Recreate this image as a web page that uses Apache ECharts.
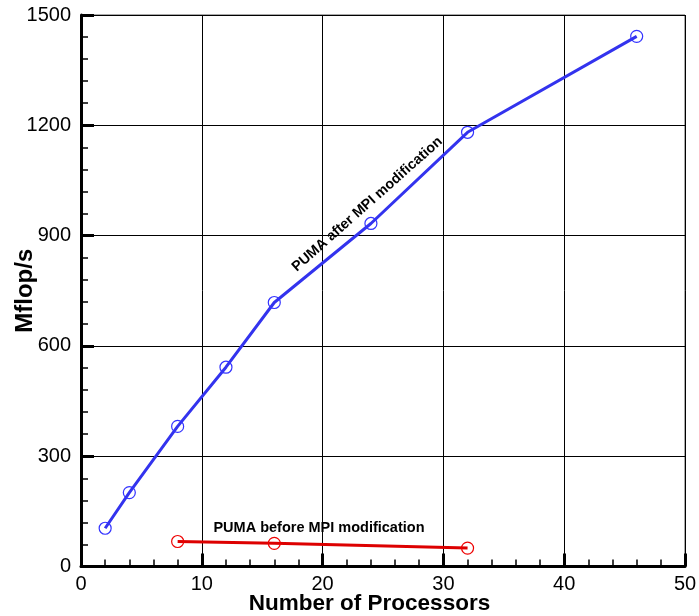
<!DOCTYPE html>
<html>
<head>
<meta charset="utf-8">
<script src="https://cdn.jsdelivr.net/npm/echarts@6/dist/echarts.min.js"></script>
<style>
html,body{margin:0;padding:0;background:#fff;}
#c{width:699px;height:616px;}
</style>
</head>
<body>
<div id="c"></div>
<script>
// Data
var afterX = [2, 4, 8, 12, 16, 24, 32, 46];
var afterY = [104, 201, 381, 542, 718, 933, 1181, 1442];
var beforeX = [8, 16, 32];
var beforeY = [68, 63, 50];
var xTicks = [0, 10, 20, 30, 40, 50];
var yTicks = [0, 300, 600, 900, 1200, 1500];
var afterLabel = 'PUMA after MPI modification';
var beforeLabel = 'PUMA before MPI modification';
var xTitle = 'Number of Processors';
var yTitle = 'Mflop/s';

var FONT = '"Liberation Sans", Arial, Helvetica, sans-serif';
function pairs(xs, ys) { return xs.map(function (x, i) { return [x, ys[i]]; }); }

var chart = echarts.init(document.getElementById('c'), null, { renderer: 'canvas' });

var option = {
  backgroundColor: '#fff',
  animation: false,
  grid: { left: 81, right: 14, top: 15, bottom: 49.5, show: true, borderColor: '#555', borderWidth: 1,
          containLabel: false, outerBoundsMode: 'none' },
  xAxis: {
    type: 'value', min: xTicks[0], max: xTicks[xTicks.length - 1], interval: 10,
    name: xTitle, nameLocation: 'middle', nameGap: 26, nameMoveOverlap: false,
    nameTextStyle: { fontFamily: FONT, fontSize: 22.5, fontWeight: 'bold', color: '#000', padding: [0, 27, 0, 0] },
    axisLine: { show: true, onZero: false, lineStyle: { color: '#000', width: 3 } },
    axisTick: { show: true, inside: true, length: 13, lineStyle: { color: '#000', width: 3 } },
    minorTick: { show: true, splitNumber: 5, length: 7, lineStyle: { color: '#000', width: 1.5 } },
    axisLabel: { fontFamily: FONT, fontSize: 20, color: '#000', margin: 8, formatter: function (v) { return String(v); } },
    splitLine: { show: true, lineStyle: { color: '#000', width: 1 } }
  },
  yAxis: {
    type: 'value', min: yTicks[0], max: yTicks[yTicks.length - 1], interval: 300,
    name: yTitle, nameLocation: 'middle', nameGap: 44, nameMoveOverlap: false,
    nameTextStyle: { fontFamily: FONT, fontSize: 24, fontWeight: 'bold', color: '#000' },
    axisLine: { show: true, onZero: false, lineStyle: { color: '#000', width: 3 } },
    axisTick: { show: true, inside: true, length: 13, lineStyle: { color: '#000', width: 3 } },
    minorTick: { show: true, splitNumber: 5, length: 7, lineStyle: { color: '#000', width: 1.5 } },
    axisLabel: { fontFamily: FONT, fontSize: 20, color: '#000', margin: 10, formatter: function (v) { return String(v); } },
    splitLine: { show: true, lineStyle: { color: '#000', width: 1 } }
  },
  series: [
    {
      type: 'line', data: pairs(afterX, afterY),
      lineStyle: { color: '#3333ee', width: 3 },
      symbol: 'circle', symbolSize: 12,
      itemStyle: { color: 'rgba(0,0,0,0)', borderColor: '#3333ff', borderWidth: 1.2 },
      z: 3
    },
    {
      type: 'line', data: pairs(beforeX, beforeY),
      lineStyle: { color: '#dd0000', width: 3 },
      symbol: 'circle', symbolSize: 12,
      itemStyle: { color: 'rgba(0,0,0,0)', borderColor: '#ee0000', borderWidth: 1.2 },
      z: 3
    }
  ]
};
chart.setOption(option);

var pA = chart.convertToPixel({ gridIndex: 0 }, [23.7, 985]);
var pB = chart.convertToPixel({ gridIndex: 0 }, [19.7, 104]);
chart.setOption({
  graphic: [
    {
      type: 'text', x: pA[0], y: pA[1], rotation: 41.5 * Math.PI / 180,
      style: { text: afterLabel, font: 'bold 14.3px ' + FONT, fill: '#000', align: 'center', verticalAlign: 'middle' },
      z: 10
    },
    {
      type: 'text', x: pB[0], y: pB[1],
      style: { text: beforeLabel, font: 'bold 14.5px ' + FONT, fill: '#000', align: 'center', verticalAlign: 'middle' },
      z: 10
    }
  ]
});
</script>
</body>
</html>
